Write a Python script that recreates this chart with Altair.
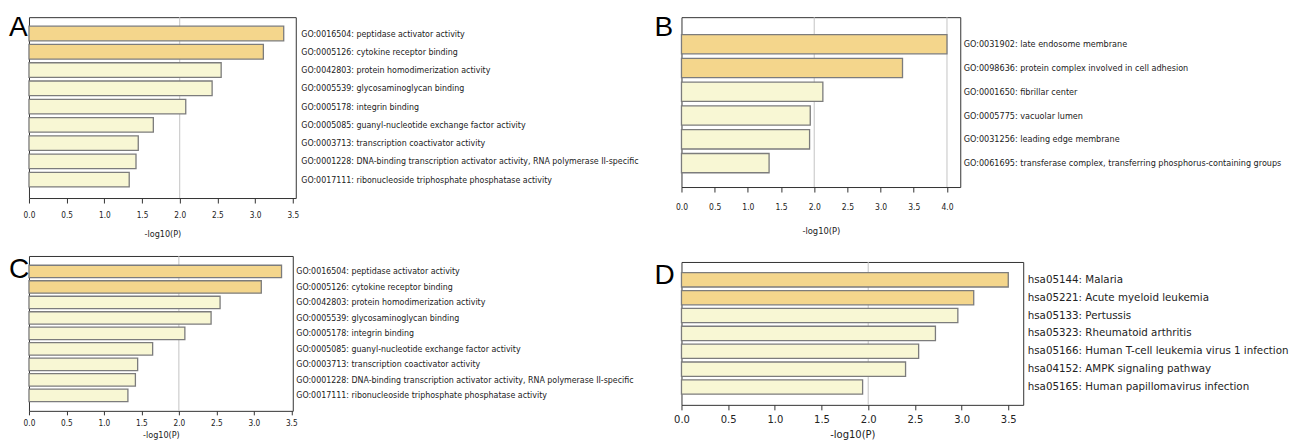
import altair as alt
import pandas as pd

# ---------------- data ----------------
A_terms = [
    "GO:0016504: peptidase activator activity",
    "GO:0005126: cytokine receptor binding",
    "GO:0042803: protein homodimerization activity",
    "GO:0005539: glycosaminoglycan binding",
    "GO:0005178: integrin binding",
    "GO:0005085: guanyl-nucleotide exchange factor activity",
    "GO:0003713: transcription coactivator activity",
    "GO:0001228: DNA-binding transcription activator activity, RNA polymerase II-specific",
    "GO:0017111: ribonucleoside triphosphate phosphatase activity",
]
A_values = [3.38, 3.11, 2.55, 2.43, 2.08, 1.65, 1.45, 1.42, 1.33]
A_groups = ["top", "top", "rest", "rest", "rest", "rest", "rest", "rest", "rest"]

B_terms = [
    "GO:0031902: late endosome membrane",
    "GO:0098636: protein complex involved in cell adhesion",
    "GO:0001650: fibrillar center",
    "GO:0005775: vacuolar lumen",
    "GO:0031256: leading edge membrane",
    "GO:0061695: transferase complex, transferring phosphorus-containing groups",
]
B_values = [4.00, 3.33, 2.13, 1.94, 1.93, 1.32]
B_groups = ["top", "top", "rest", "rest", "rest", "rest"]

C_terms = list(A_terms)
C_values = [3.37, 3.10, 2.55, 2.43, 2.08, 1.65, 1.45, 1.42, 1.32]
C_groups = list(A_groups)

D_terms = [
    "hsa05144: Malaria",
    "hsa05221: Acute myeloid leukemia",
    "hsa05133: Pertussis",
    "hsa05323: Rheumatoid arthritis",
    "hsa05166: Human T-cell leukemia virus 1 infection",
    "hsa04152: AMPK signaling pathway",
    "hsa05165: Human papillomavirus infection",
]
D_values = [3.50, 3.13, 2.96, 2.72, 2.54, 2.40, 1.94]
D_groups = ["top", "top", "rest", "rest", "rest", "rest", "rest"]

ticks_35 = [0.0, 0.5, 1.0, 1.5, 2.0, 2.5, 3.0, 3.5]
ticks_40 = [0.0, 0.5, 1.0, 1.5, 2.0, 2.5, 3.0, 3.5, 4.0]
grid_lines = [2.0, 4.0]
group_names = ["top", "rest"]
group_colors = ["#F4D68C", "#F8F7D4"]

COND = "DejaVu Sans Condensed, DejaVu Sans"
DEJAVU = "DejaVu Sans"


def panel(letter, terms, values, groups, width, height, xmax, ticks,
          pad_inner, pad_outer, band_align, lab_font, lab_size, lab_pad,
          tk_font, tk_size, tk_len, tk_pad, ti_size, ti_pad,
          box, letter_xy):
    df = pd.DataFrame({"term": terms, "value": values, "group": groups})
    xscale = alt.Scale(domain=[0, xmax], nice=False, zero=True)
    xaxis = alt.Axis(
        values=ticks, format=".1f", title="-log10(P)", grid=False, domain=False,
        tickSize=tk_len, tickColor="#333333", labelPadding=tk_pad,
        labelFont=tk_font, labelFontSize=tk_size, labelColor="#222222",
        labelFlush=False, labelOverlap=False, labelBound=False,
        titleFont=tk_font, titleFontSize=ti_size, titleFontWeight="normal",
        titleColor="#222222", titlePadding=ti_pad,
    )
    gdf = pd.DataFrame({"value": [g for g in grid_lines if g < xmax]})
    # invisible layout box (controls the panel's outer bounds in the grid)
    spacer = alt.Chart(alt.Data(values=[{}])).mark_rect(opacity=0).encode(
        x=alt.value(box[0]), x2=alt.value(box[1]),
        y=alt.value(box[2]), y2=alt.value(box[3]))
    grid = alt.Chart(gdf).mark_rule(color="#c4c4c4", strokeWidth=1).encode(
        x=alt.X("value:Q", scale=xscale, axis=xaxis))
    bars = alt.Chart(df).mark_bar(stroke="#7c7c7c", strokeWidth=1.3).encode(
        x=alt.X("value:Q", scale=xscale, axis=xaxis),
        y=alt.Y("term:N", sort=None,
                scale=alt.Scale(paddingInner=pad_inner, paddingOuter=pad_outer,
                                align=band_align),
                axis=alt.Axis(orient="right", title=None, ticks=False,
                              domain=False, labelPadding=lab_pad,
                              labelFont=lab_font, labelFontSize=lab_size,
                              labelColor="#222222", labelLimit=1000)),
        color=alt.Color("group:N", legend=None,
                        scale=alt.Scale(domain=group_names, range=group_colors)),
    )
    lab = alt.Chart(alt.Data(values=[{}])).mark_text(
        text=letter, font="Liberation Sans", fontSize=28, align="left",
        baseline="top", color="black").encode(
        x=alt.value(letter_xy[0]), y=alt.value(letter_xy[1]))
    return alt.layer(spacer, grid, bars, lab).properties(width=width, height=height)


pA = panel("A", A_terms, A_values, A_groups, 267, 181, 3.54, ticks_35,
           0.2, 0.55, 0.45, COND, 8.8, 5, COND, 8.2, 5, 8, 9, 11.3,
           (-20, 617, -8, 224), (-20, -3))
pB = panel("B", B_terms, B_values, B_groups, 279, 170, 4.2, ticks_40,
           0.19, 0.667, 0.55, COND, 9.0, 3, COND, 8.5, 5, 10, 9.3, 16,
           (-29, 279, -8, 220), (-27, -3))
pC = panel("C", C_terms, C_values, C_groups, 264, 155, 3.52, ticks_35,
           0.2, 0.6, 0.5, COND, 8.8, 3, COND, 8.2, 4, 5, 9, 3,
           (-20, 617, -5, 155), (-20, 0))
pD = panel("D", D_terms, D_values, D_groups, 342, 143, 3.66, ticks_35,
           0.2, 0.6, 0.5, DEJAVU, 10.3, 4, DEJAVU, 10, 5, 5, 10, 5,
           (-29, 342, -5, 143), (-27, 0))

col1 = alt.vconcat(pA, pC, spacing=8)
col2 = alt.vconcat(pB, pD, spacing=18)
chart = alt.hconcat(col1, col2, spacing=5).configure(
    padding=0, background="white"
).configure_view(stroke="#333333", strokeWidth=1)

chart.save("out.html", embed_options={"renderer": "svg", "actions": False})
